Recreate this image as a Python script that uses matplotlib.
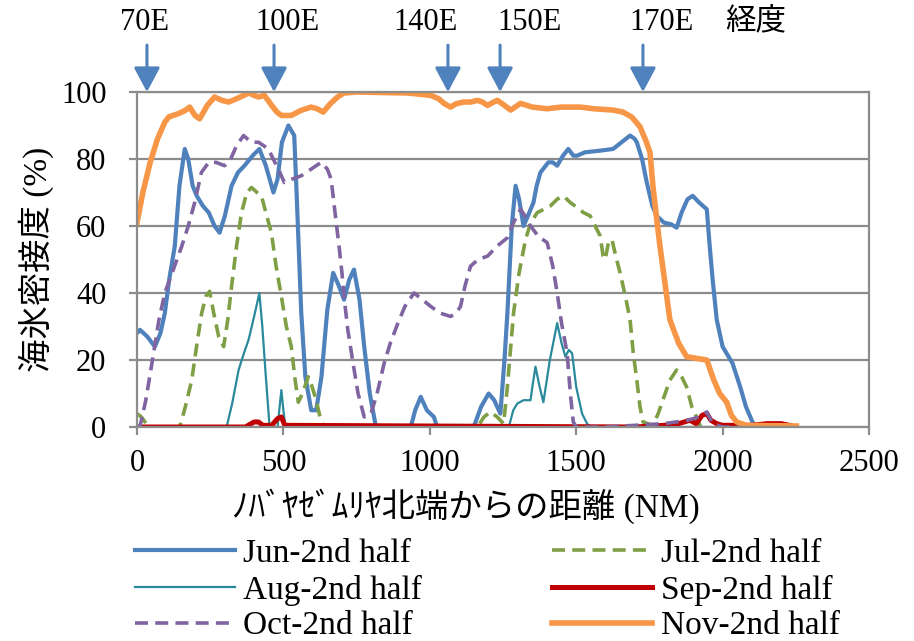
import numpy as np
import matplotlib
matplotlib.use("Agg")
import matplotlib.pyplot as plt

plt.rcParams['font.family'] = ['Liberation Serif', 'Noto Sans CJK JP', 'DejaVu Sans']

# --- data (distance in NM, sea ice concentration in %) ---
jun_x = [0, 10, 35, 61, 80, 95, 110, 129, 145, 163, 175, 190, 204, 225, 245, 265, 282, 300, 323, 345,
         367, 395, 418, 440, 466, 480, 495, 517, 537, 545, 561, 575, 595, 612, 630, 650, 670, 690, 707,
         725, 741, 760, 776, 795, 816, 935, 950, 969, 990, 1014, 1025, 1150, 1175, 1201, 1220, 1241,
         1255, 1265, 1280, 1293, 1305, 1320, 1335, 1354, 1365, 1378, 1405, 1420, 1435, 1455, 1473,
         1490, 1503, 1530, 1582, 1626, 1655, 1684, 1700, 1707, 1725, 1741, 1760, 1775, 1800, 1825,
         1843, 1860, 1880, 1898, 1920, 1946, 1955, 1966, 1980, 2000, 2034, 2060, 2080, 2102, 2115]
jun_y = [28, 29, 27, 24, 28, 34, 44, 54, 72, 83, 80, 72, 69, 66, 64, 60, 58, 63, 72, 76,
         78, 81, 83, 78, 70, 74, 85, 90, 87, 70, 34, 15, 5, 5, 15, 35, 46, 42, 38,
         44, 47, 38, 24, 10, 0, 0, 5, 9, 5, 3, 0, 0, 6, 10, 8, 4,
         20, 34, 60, 72, 68, 60, 63, 67, 72, 76, 79, 79, 78, 81, 83,
         81, 81, 82, 82.5, 83, 85, 87, 86, 85, 80, 73, 66, 63, 61, 60.5,
         59.5, 64, 68, 69, 67, 65, 55, 44, 32, 24, 19, 12, 6, 1.5, 0]

jul_x = [0, 15, 40, 146, 165, 187, 205, 221, 235, 248, 262, 279, 296, 310, 323, 340, 357, 375, 391,
         410, 425, 440, 459, 475, 493, 510, 527, 540, 551, 565, 585, 598, 612, 625, 639, 1163, 1185,
         1207, 1230, 1252, 1265, 1286, 1305, 1327, 1345, 1367, 1390, 1412, 1435, 1456, 1480, 1503,
         1525, 1548, 1565, 1582, 1592, 1599, 1610, 1622, 1635, 1650, 1668, 1684, 1695, 1707, 1718,
         1728, 1762, 1780, 1796, 1820, 1843, 1860, 1877, 1895, 1911, 1925]
jul_y = [4, 3, 0, 0, 6, 14, 25, 34, 39, 40.5, 34, 27, 24, 32, 42, 54, 64, 70, 71.5,
         70, 69, 64, 58, 48, 39, 30, 24, 14, 7.4, 10, 15, 12, 8, 3, 0, 0, 3,
         4.5, 3, 1, 12, 34, 46, 56, 61, 64, 65, 66, 68, 69, 67, 65.5,
         64, 63, 60, 57, 51, 50, 55, 56, 51, 46, 39, 32, 22, 14, 6,
         1.5, 0.5, 4, 8, 14, 17, 15, 12, 6, 3, 0]

aug_x = [0, 306, 325, 347, 365, 381, 400, 418, 428, 440, 452, 465, 480, 493, 500, 507, 1270, 1285,
         1299, 1320, 1344, 1352, 1361, 1375, 1388, 1410, 1435, 1450, 1463, 1475, 1486, 1500, 1520,
         1537, 1550, 1960]
aug_y = [0, 0, 7, 17, 22, 26, 33, 40, 30, 15, 1, 0, 0, 11, 5, 0, 0, 5,
         7, 8, 8, 13, 18, 12, 7.4, 20, 31, 25, 21, 23, 22, 12, 4,
         1, 0, 0]

sep_x = [0, 370, 400, 415, 430, 460, 480, 493, 505, 1700, 1800, 1850, 1888, 1910, 1930, 1946, 1960,
         1980, 2000, 2100, 2150, 2200, 2228]
sep_y = [0, 0, 1.5, 1.5, 0.5, 0.5, 2.5, 3, 0.5, 0, 0.5, 1, 2, 1, 3.5, 4, 2,
         1, 0.5, 0.5, 1, 1, 0.5]

oct_x = [0, 10, 30, 51, 75, 95, 120, 153, 175, 197, 220, 245, 270, 299, 320, 340, 364, 390, 415,
         449, 465, 483, 503, 530, 561, 595, 629, 650, 663, 675, 690, 700, 707, 720, 738, 755, 776,
         799, 820, 844, 865, 891, 915, 946, 975, 1003, 1035, 1071, 1090, 1105, 1120, 1139, 1165,
         1197, 1230, 1265, 1286, 1310, 1325, 1344, 1370, 1401, 1420, 1435, 1450, 1469, 1480, 1490,
         1500, 1600, 1700, 1800, 1880, 1920, 1946, 1966, 2000, 2058]
oct_y = [0, 0, 8, 19, 32, 40, 46, 54, 60, 67, 76, 79, 79, 78, 80, 84, 87, 85, 85,
         83, 80, 77, 73, 74, 75, 77, 79, 77, 74, 65, 54, 46, 39, 29, 19, 10, 3,
         4, 10, 19, 25, 31, 36, 40, 38, 36, 34, 33, 34, 36, 42, 48, 50,
         51, 54, 56.5, 61, 65, 63, 60, 57, 55, 48, 40, 31, 22, 10, 1.5,
         0, 0, 0.5, 1, 2, 3, 4.5, 1, 0, 0]

nov_x = [0, 20, 45, 70, 95, 109, 140, 165, 180, 198, 214, 240, 265, 290, 313, 340, 365, 381, 400,
         415, 435, 460, 478, 493, 527, 560, 595, 615, 636, 660, 685, 707, 750, 925, 970, 1003, 1030,
         1050, 1071, 1090, 1116, 1140, 1163, 1180, 1197, 1218, 1231, 1255, 1276, 1310, 1350, 1401,
         1450, 1514, 1560, 1626, 1660, 1690, 1718, 1740, 1752, 1762, 1775, 1786, 1800, 1820, 1850,
         1877, 1910, 1946, 1970, 1990, 2014, 2030, 2048, 2082, 2252]
nov_y = [61, 70, 79, 86, 91, 92.6, 93.5, 94.5, 95.5, 93, 92, 96, 98.5, 97.5, 97, 98, 99, 99.7, 99,
         98.5, 99, 96, 94, 93, 93, 94.5, 95.5, 95, 94, 96.5, 98.5, 99.7, 100, 99.7, 99.3, 99, 98,
         96.5, 95.5, 96.5, 97, 97, 97.5, 97, 96, 97, 97.5, 96, 94.6, 96.6, 95.5, 95,
         95.5, 95.5, 95, 94.6, 94, 92.5, 89.6, 85, 82, 72, 62, 54, 45, 32, 25,
         21, 20.5, 20, 14, 10, 7.4, 3.5, 1.5, 0.5, 0.3]

labels = ['Jun-2nd half', 'Jul-2nd half', 'Aug-2nd half', 'Sep-2nd half', 'Oct-2nd half', 'Nov-2nd half']

# longitude markers (arrow position along the distance axis) and their captions
lon_pos = [34, 468, 1062, 1240, 1728]
lon_txt = ['70E', '100E', '140E', '150E', '170E']
lon_txt_x = [145, 287, 426, 530, 661]   # caption centres in figure pixels

W, H = 914, 641
fig = plt.figure(figsize=(W / 100, H / 100), dpi=100)
ax = fig.add_axes([137 / W, 1 - 427 / H, 732 / W, 335 / H])

l_jun, = ax.plot(jun_x, jun_y, color='#4F81BD', lw=3.0, label=labels[0])
l_jul, = ax.plot(jul_x, jul_y, color='#7F9F45', lw=2.6, dashes=(3.6, 2.0), label=labels[1])
l_aug, = ax.plot(aug_x, aug_y, color='#2A8A9C', lw=1.6, label=labels[2])
l_sep, = ax.plot(sep_x, sep_y, color='#C00000', lw=3.6, label=labels[3])
l_oct, = ax.plot(oct_x, oct_y, color='#8064A2', lw=2.6, dashes=(3.6, 2.0), label=labels[4])
l_nov, = ax.plot(nov_x, nov_y, color='#F79646', lw=4.0, label=labels[5])

ax.set_xlim(0, 2500)
ax.set_ylim(0, 100)
ax.set_xticks(np.arange(0, 2501, 500))
ax.set_yticks(np.arange(0, 101, 20))
ax.grid(axis='y', color='#8C8C8C', lw=1.6)
ax.set_axisbelow(True)
for s in ax.spines.values():
    s.set_color('#8C8C8C')
    s.set_linewidth(1.6)
ax.tick_params(axis='both', direction='out', length=6, width=1.6, color='#8C8C8C',
               labelsize=22)
ax.tick_params(axis='x', pad=10)
ax.tick_params(axis='y', pad=16)

ax.set_ylabel('海氷密接度 (%)', fontsize=24, labelpad=5)
fig.text(466 / W, 1 - 506 / H, 'ﾉﾊﾞﾔｾﾞﾑﾘﾔ北端からの距離 (NM)', fontsize=24,
         ha='center', va='center')

# longitude arrows above plot
for xp in lon_pos:
    ax.annotate('', xy=(xp, 1.0), xycoords=('data', 'axes fraction'),
                xytext=(xp, 1.14), textcoords=('data', 'axes fraction'),
                arrowprops=dict(arrowstyle='-|>,head_width=0.8,head_length=1.5',
                                color='#4F81BD', lw=2.2, shrinkA=0, shrinkB=0),
                annotation_clip=False)
for xt, t in zip(lon_txt_x, lon_txt):
    fig.text(xt / W, 1 - 22 / H, t, fontsize=22, ha='center', va='center')
fig.text(756 / W, 1 - 22 / H, '経度', fontsize=22, ha='center', va='center')

handles = [l_jun, l_aug, l_oct, l_jul, l_sep, l_nov]
fig.legend(handles, [h.get_label() for h in handles], ncol=2, loc='center left',
           bbox_to_anchor=(135 / W, 1 - 590 / H), frameon=False, fontsize=24,
           handlelength=3.0, handletextpad=0.25, columnspacing=3.9, labelspacing=0.16,
           borderaxespad=0, borderpad=0)

fig.savefig('out.png', dpi=100)
